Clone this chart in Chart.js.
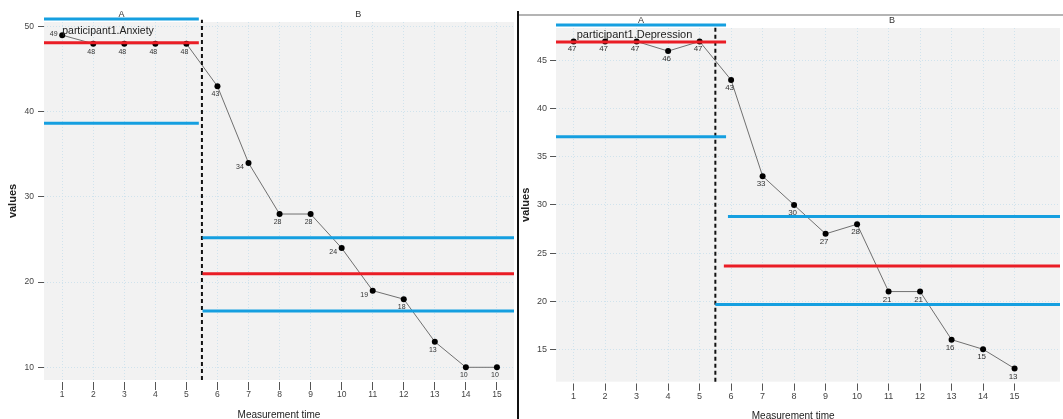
<!DOCTYPE html>
<html><head><meta charset="utf-8">
<script src="https://cdn.jsdelivr.net/npm/chart.js@4/dist/chart.umd.min.js"></script>
<style>
html,body{margin:0;padding:0;background:#fff;overflow:hidden;width:1063px;height:419px;}
#wrap{position:relative;width:1063px;height:419px;overflow:hidden;background:#fff;}
.pane{position:absolute;top:0;height:430px;}
#p1{left:0;width:517px;}
#p2{left:519px;width:544px;}
#vline{position:absolute;left:517px;top:11px;width:2px;height:408px;background:#111;}
#hline{position:absolute;left:519px;top:14px;width:544px;height:2px;background:#b4b4b4;}
</style></head><body>
<div id="wrap">
  <div class="pane" id="p1"><canvas id="c1" width="517" height="430"></canvas></div>
  <div class="pane" id="p2"><canvas id="c2" width="544" height="430"></canvas></div>
  <div id="vline"></div>
  <div id="hline"></div>
</div>
<script>
// ---------- data ----------
const measurementTimes = [1,2,3,4,5,6,7,8,9,10,11,12,13,14,15];
const phaseNames = ['A','B'];
const phaseChange = 5.5;
const anxietyValues    = [49,48,48,48,48,43,34,28,28,24,19,18,13,10,10];
const depressionValues = [47,47,47,46,47,43,33,30,27,28,21,21,16,15,13];
// phase reference lines: [upper, centre, lower]
const anxietyLevelsA    = [50.9, 48.1, 38.65];
const anxietyLevelsB    = [25.2, 21.0, 16.6];
const depressionLevelsA = [48.7, 46.95, 37.1];
const depressionLevelsB = [28.8, 23.65, 19.65];
const xTickValues = [1,2,3,4,5,6,7,8,9,10,11,12,13,14,15];
const anxietyYTicks = [10,20,30,40,50];
const depressionYTicks = [15,20,25,30,35,40,45];

// ---------- style ----------
const FONT = "'Liberation Sans', Arial, sans-serif";
const BLUE = '#159fe0';
const RED = '#ea1d25';
const GRID = 'rgba(205,225,236,0.95)';

function makeDecor(cfg){
  return {
    id: 'decor_' + cfg.id,
    beforeDraw(chart){
      const {ctx, chartArea:a} = chart;
      ctx.save();
      ctx.fillStyle = '#f2f2f2';
      ctx.fillRect(a.left, a.top, a.right - a.left, a.bottom - a.top);
      ctx.restore();
    },
    afterDatasetsDraw(chart){
      const {ctx, chartArea:a} = chart;
      const xs = chart.scales.x;
      const meta = chart.getDatasetMeta(cfg.dataIndex);
      const ds = chart.data.datasets[cfg.dataIndex].data;
      ctx.save();
      // value labels
      ctx.font = cfg.pointFont + 'px ' + FONT;
      ctx.fillStyle = '#333';
      ctx.textAlign = 'center';
      ctx.textBaseline = 'middle';
      meta.data.forEach((el, i) => {
        let n = cfg.belowNudge;
        if (cfg.leftFirst && i === 0) n = [-8.5, -1];
        else if (cfg.leftLabels.includes(i)) n = [-8.5, 4.4];
        ctx.fillText(String(ds[i].y), el.x + n[0], el.y + n[1]);
      });
      // phase names
      ctx.font = '9px ' + FONT;
      ctx.fillStyle = '#333';
      const ax = xs.getPixelForValue((cfg.xMin + cfg.aEnd) / 2);
      const bx = xs.getPixelForValue((cfg.bStart[1] + cfg.xMax) / 2);
      ctx.fillText(phaseNames[0], ax, a.top - cfg.phaseLabelUp);
      ctx.fillText(phaseNames[1], bx, a.top - cfg.phaseLabelUp);
      // participant label
      ctx.font = cfg.partFont + 'px ' + FONT;
      ctx.fillStyle = '#222';
      ctx.textAlign = 'left';
      ctx.fillText(cfg.participant, xs.getPixelForValue(cfg.partX), a.top + cfg.partDown);
      // x title drawn here when requested
      if (cfg.customXTitle){
        ctx.font = '10px ' + FONT;
        ctx.textAlign = 'center';
        ctx.fillStyle = '#222';
        ctx.fillText('Measurement time', xs.getPixelForValue((cfg.xMin + 15.5) / 2), cfg.xTitleY);
      }
      ctx.restore();
    }
  };
}

function levelDs(points, color){
  return { data: points, borderColor: color, borderWidth: 3, pointRadius: 0,
    fill: false, clip: false, order: 0, borderCapStyle: 'butt', tension: 0 };
}

function buildChart(canvasId, cfg){
  const pts = measurementTimes.map((t, i) => ({x: t, y: cfg.values[i]}));
  const colors = [BLUE, RED, BLUE];
  const datasets = [];
  datasets.push({ data: pts, borderColor: '#707070', borderWidth: 1,
    pointRadius: 3, pointBackgroundColor: '#000', pointBorderWidth: 0,
    pointHoverRadius: 3, fill: false, order: 2, tension: 0, clip: false });
  cfg.dataIndex = 0;
  datasets.push({ data: [{x: phaseChange, y: cfg.yMin}, {x: phaseChange, y: cfg.dashTop}],
    borderColor: '#111', borderWidth: 2, borderDash: [4, 3], pointRadius: 0,
    fill: false, order: 1, clip: false });
  cfg.levelsA.forEach((v, k) => datasets.push(levelDs([{x: cfg.xMin, y: v}, {x: cfg.aEnd, y: v}], colors[k])));
  cfg.levelsB.forEach((v, k) => datasets.push(levelDs([{x: cfg.bStart[k], y: v}, {x: cfg.xMax, y: v}], colors[k])));

  const tickFont = {family: FONT, size: cfg.tickSize};
  return new Chart(document.getElementById(canvasId), {
    type: 'line',
    data: { datasets },
    options: {
      responsive: false, animation: false, devicePixelRatio: 1, events: [],
      layout: { padding: { left: 0, right: 0, top: cfg.padTop, bottom: 0 } },
      plugins: { legend: {display: false}, tooltip: {enabled: false}, title: {display: false} },
      scales: {
        x: {
          type: 'linear', min: cfg.xMin, max: cfg.xMax,
          afterBuildTicks: s => { s.ticks = xTickValues.map(v => ({value: v})); },
          afterFit: s => { s.height = cfg.xHeight; },
          ticks: { font: tickFont, color: '#444', padding: 0, autoSkip: false, maxRotation: 0, minRotation: 0 },
          grid: { color: GRID, lineWidth: 1, tickLength: cfg.xTickLen, tickColor: '#555', tickWidth: 1,
                  tickBorderDash: [0, cfg.xTickGap, 8, 60] },
          border: { display: false, dash: [1, 2] },
          title: { display: !cfg.customXTitle, text: 'Measurement time', color: '#222',
                   font: {family: FONT, size: 10, lineHeight: 1.2}, padding: {top: 0, bottom: 8.5} }
        },
        y: {
          type: 'linear', min: cfg.yMin, max: cfg.yMax,
          afterBuildTicks: s => { s.ticks = cfg.yTicks.map(v => ({value: v})); },
          afterFit: s => { s.width = cfg.yWidth; },
          ticks: { font: tickFont, color: '#444', padding: cfg.yTickPad, autoSkip: false },
          grid: { color: GRID, lineWidth: 1, tickLength: 7, tickColor: '#555', tickWidth: 1,
                  tickBorderDash: [0, 1, 6, 60] },
          border: { display: false, dash: [1, 2] },
          title: { display: true, text: 'values', color: '#222',
                   font: {family: FONT, size: 11, weight: 'bold', lineHeight: 1.2},
                   padding: {top: cfg.yTitlePad, bottom: 0} }
        }
      }
    },
    plugins: [makeDecor(cfg)]
  });
}

buildChart('c1', {
  id: 'anx', values: anxietyValues, levelsA: anxietyLevelsA, levelsB: anxietyLevelsB,
  xMin: 0.414, xMax: 15.55, yMin: 8.51, yMax: 50.55, yTicks: anxietyYTicks,
  aEnd: 5.4, bStart: [5.52, 5.52, 5.52], dashTop: 50.8,
  padTop: 22, xHeight: 50, yWidth: 44, yTickPad: 3, yTitlePad: 6.4,
  tickSize: 8.5, xTickLen: 10, xTickGap: 2,
  pointFont: 7, belowNudge: [-2, 8], leftFirst: true, leftLabels: [6, 9, 10],
  phaseLabelUp: 7.5, participant: 'participant1.Anxiety', partFont: 10.5, partX: 1, partDown: 8.7,
  customXTitle: false
});

buildChart('c2', {
  id: 'dep', values: depressionValues, levelsA: depressionLevelsA, levelsB: depressionLevelsB,
  xMin: 0.441, xMax: 16.442, yMin: 11.63, yMax: 48.4, yTicks: depressionYTicks,
  aEnd: 5.84, bStart: [5.9, 5.77, 5.5], dashTop: 48.7,
  padTop: 28, xHeight: 48.3, yWidth: 37, yTickPad: 2, yTitlePad: 0,
  tickSize: 9, xTickLen: 9, xTickGap: 1.5,
  pointFont: 8, belowNudge: [-1.5, 7.8], leftFirst: false, leftLabels: [],
  phaseLabelUp: 7, participant: 'participant1.Depression', partFont: 11, partX: 1.1, partDown: 7.3,
  customXTitle: true, xTitleY: 416.5
});
</script>
</body></html>
